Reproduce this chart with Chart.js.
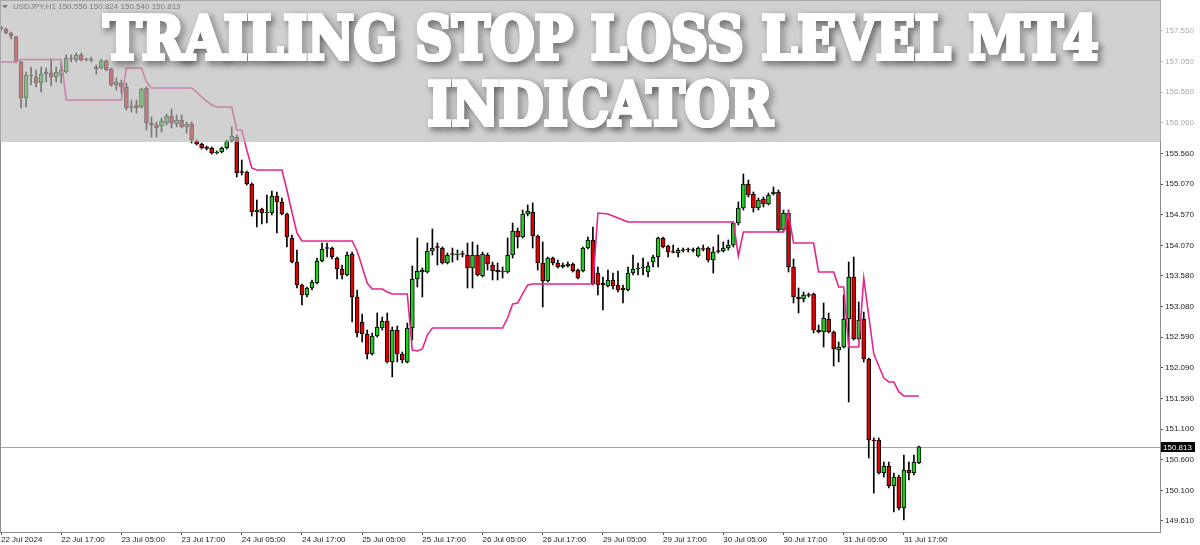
<!DOCTYPE html>
<html>
<head>
<meta charset="utf-8">
<script src="https://cdn.jsdelivr.net/npm/chart.js@4.4.1/dist/chart.umd.min.js"></script>
<style>
html,body{margin:0;padding:0;background:#fff;}
#wrap{position:relative;width:1200px;height:545px;}
</style>
</head>
<body>
<div id="wrap"><canvas id="c" width="1200" height="545"></canvas></div>
<script>
const symbol = "USDJPY,H1";
const titleLines = ["TRAILING STOP LOSS LEVEL MT4", "INDICATOR"];

const opens = [157.615,157.582,157.517,157.452,157.047,156.464,156.837,156.804,156.707,156.853,
156.869,156.804,156.837,156.885,157.112,157.080,157.161,157.096,157.080,156.966,
156.950,157.063,156.934,156.675,156.707,156.642,156.318,156.350,156.318,156.626,
156.059,156.026,156.010,156.059,156.172,156.043,156.107,155.994,156.043,155.767,
155.718,155.670,155.654,155.573,155.589,155.654,155.767,155.831,155.265,155.265,
155.071,154.617,154.665,154.600,154.600,154.876,154.779,154.584,154.195,153.806,
153.434,153.272,153.385,153.466,153.823,154.033,154.033,153.871,153.693,153.596,
153.936,153.239,152.834,152.639,152.316,152.607,152.737,152.850,152.186,152.704,
152.316,152.186,152.737,153.531,153.644,153.644,153.985,154.050,154.033,153.790,
153.936,153.920,153.936,153.920,153.709,153.920,153.579,153.920,153.758,153.677,
153.644,153.644,153.920,154.309,154.212,154.584,154.617,154.228,153.790,153.498,
153.871,153.790,153.725,153.741,153.774,153.677,153.660,154.033,154.163,153.628,
153.466,153.417,153.515,153.434,153.385,153.353,153.628,153.693,153.709,153.644,
153.806,153.887,154.195,154.066,153.968,153.952,154.001,154.001,154.001,153.904,
154.017,154.033,153.839,153.985,153.985,154.033,154.082,154.438,154.681,155.071,
154.908,154.681,154.827,154.746,154.908,154.941,154.325,154.600,153.725,153.239,
153.207,153.272,153.288,152.704,152.672,152.883,152.672,152.380,152.429,152.883,
153.563,152.558,152.883,152.235,150.922,150.922,150.387,150.500,150.177,150.322,
149.821,150.436,150.387,150.556];

const highs = [157.631,157.598,157.533,157.469,157.063,156.885,156.966,156.918,156.966,156.950,
157.096,156.966,157.047,157.161,157.161,157.193,157.193,157.112,157.128,156.999,
157.096,157.080,156.950,156.788,156.756,156.707,156.432,156.432,156.626,156.642,
156.156,156.075,156.140,156.205,156.286,156.188,156.188,156.075,156.075,155.783,
155.735,155.686,155.670,155.605,155.670,155.783,155.994,155.864,155.459,155.281,
155.087,154.811,154.681,154.892,154.957,154.941,154.843,154.600,154.244,154.001,
153.450,153.401,153.515,153.871,154.114,154.114,154.050,153.887,153.758,153.968,
153.968,153.353,152.964,152.704,152.656,152.980,152.915,152.980,152.753,152.769,
152.348,152.818,153.741,154.195,153.709,154.114,154.341,154.114,154.050,153.952,
154.033,154.001,153.985,154.114,154.131,154.082,153.968,153.952,153.806,153.790,
153.725,154.195,154.438,154.357,154.649,154.730,154.762,154.244,154.131,153.887,
153.887,153.839,153.790,153.806,153.790,153.693,154.050,154.212,154.374,153.725,
153.563,153.677,153.628,153.660,153.434,153.725,153.920,153.790,153.871,153.806,
153.920,154.212,154.212,154.082,154.082,154.033,154.033,154.033,154.033,154.050,
154.082,154.050,154.050,154.244,154.131,154.163,154.455,154.779,155.232,155.135,
154.941,154.843,154.860,154.924,155.022,154.973,154.649,154.649,153.855,153.385,
153.320,153.304,153.304,152.785,153.142,152.980,152.688,152.510,153.272,153.806,
153.887,153.158,152.996,152.250,150.954,150.954,150.565,150.565,150.387,150.355,
150.679,150.565,150.679,150.824];

const lows = [157.550,157.501,157.420,157.031,156.302,156.318,156.675,156.642,156.561,156.723,
156.658,156.723,156.707,156.869,157.047,157.047,157.063,157.063,157.047,156.853,
156.934,156.901,156.658,156.594,156.529,156.269,156.237,156.221,156.302,155.945,
155.831,155.831,155.913,156.026,155.978,155.994,155.978,155.897,155.735,155.702,
155.637,155.621,155.556,155.556,155.573,155.637,155.751,155.184,155.216,155.054,
154.552,154.374,154.422,154.438,154.568,154.276,154.568,154.050,153.790,153.385,
153.110,153.239,153.353,153.450,153.806,153.887,153.855,153.531,153.531,153.579,
152.834,152.591,152.510,152.235,152.299,152.591,152.704,152.170,151.943,152.186,
152.170,152.170,152.542,153.401,153.239,153.628,153.920,153.758,153.774,153.774,
153.806,153.839,153.887,153.385,153.385,153.579,153.563,153.677,153.515,153.515,
153.547,153.628,153.871,154.033,154.195,154.552,154.033,153.677,153.077,153.482,
153.758,153.709,153.709,153.725,153.644,153.531,153.644,154.017,153.434,153.272,
153.029,153.401,153.369,153.320,153.142,153.336,153.596,153.596,153.596,153.563,
153.725,153.725,154.033,153.887,153.952,153.887,153.968,153.968,153.968,153.887,
153.985,153.806,153.628,153.952,153.968,154.001,154.050,154.406,154.649,154.860,
154.617,154.649,154.698,154.730,154.892,154.293,154.293,153.644,153.142,152.980,
153.158,153.239,152.656,152.656,152.429,152.656,152.121,152.186,152.413,151.538,
152.542,152.542,152.186,150.630,150.063,150.371,150.322,150.144,149.756,149.788,
149.626,150.274,150.355,150.540];

const closes = [157.582,157.517,157.469,157.047,156.464,156.837,156.820,156.707,156.853,156.885,
156.804,156.885,156.918,157.112,157.096,157.161,157.080,157.080,157.075,156.934,
157.063,156.918,156.675,156.723,156.642,156.302,156.310,156.302,156.610,156.059,
156.026,155.978,156.091,156.172,156.059,156.107,155.994,156.043,155.783,155.718,
155.654,155.646,155.573,155.581,155.654,155.767,155.848,155.249,155.257,155.071,
154.617,154.649,154.600,154.609,154.876,154.779,154.584,154.212,153.806,153.434,
153.272,153.385,153.482,153.823,154.017,154.025,153.887,153.693,153.596,153.920,
153.239,152.656,152.639,152.316,152.607,152.753,152.850,152.186,152.704,152.316,
152.218,152.737,153.531,153.660,153.677,153.985,154.033,154.042,153.790,153.920,
153.928,153.928,153.928,153.709,153.920,153.596,153.936,153.774,153.660,153.644,
153.652,153.920,154.309,154.212,154.584,154.633,154.228,153.790,153.498,153.871,
153.790,153.725,153.758,153.774,153.660,153.547,154.033,154.163,153.450,153.434,
153.434,153.515,153.417,153.353,153.353,153.628,153.693,153.709,153.717,153.741,
153.887,154.195,154.050,153.968,153.960,154.001,153.993,154.009,153.993,154.033,
154.009,153.839,153.968,153.977,154.033,154.082,154.438,154.681,155.071,154.892,
154.681,154.811,154.746,154.892,154.941,154.325,154.600,153.725,153.239,153.207,
153.272,153.264,152.704,152.672,152.899,152.672,152.397,152.429,152.883,153.563,
152.558,152.866,152.235,150.922,150.906,150.387,150.500,150.177,150.322,149.821,
150.436,150.387,150.565,150.813];

const stopLevel = [157.047,157.047,157.047,157.047,157.088,157.088,157.088,157.088,157.088,157.088,
157.088,157.088,157.088,156.432,156.432,156.432,156.432,156.432,156.432,156.432,
156.432,156.432,156.432,156.432,156.432,156.950,156.950,156.950,156.950,156.723,
156.626,156.626,156.626,156.626,156.626,156.626,156.626,156.626,156.626,156.561,
156.480,156.415,156.350,156.318,156.318,156.318,156.318,155.945,155.945,155.621,
155.330,155.297,155.297,155.297,155.297,155.297,155.297,154.973,154.617,154.276,
154.147,154.147,154.147,154.147,154.147,154.147,154.147,154.147,154.147,154.147,
154.147,153.985,153.725,153.466,153.369,153.369,153.369,153.320,153.288,153.288,
153.288,153.288,152.380,152.364,152.397,152.623,152.737,152.737,152.737,152.737,
152.737,152.737,152.737,152.737,152.737,152.737,152.737,152.737,152.737,152.737,
152.737,152.899,153.126,153.142,153.288,153.434,153.450,153.450,153.450,153.450,
153.450,153.450,153.450,153.450,153.450,153.450,153.450,153.450,153.450,154.600,
154.592,154.584,154.552,154.519,154.487,154.455,154.455,154.455,154.455,154.455,
154.455,154.455,154.455,154.455,154.455,154.455,154.455,154.455,154.455,154.455,
154.455,154.455,154.455,154.455,154.455,154.455,154.455,153.904,154.293,154.293,
154.293,154.293,154.293,154.293,154.293,154.293,154.293,154.600,154.114,154.114,
154.114,154.114,154.114,153.644,153.644,153.644,153.644,153.401,153.401,152.429,
152.429,152.429,153.547,152.931,152.316,152.121,151.926,151.862,151.862,151.700,
151.635,151.635,151.635,151.635];

const xTickIndex = [0,12,24,36,48,60,72,84,96,108,120,132,144,156,168,180];
const xTickLabels = ["22 Jul 2024","22 Jul 17:00","23 Jul 05:00","23 Jul 17:00","24 Jul 05:00",
  "24 Jul 17:00","25 Jul 05:00","25 Jul 17:00","26 Jul 05:00","26 Jul 17:00","29 Jul 05:00",
  "29 Jul 17:00","30 Jul 05:00","30 Jul 17:00","31 Jul 05:00","31 Jul 17:00"];
const priceTicks = [157.550,157.050,156.560,156.060,155.560,155.070,154.570,154.070,153.580,
  153.080,152.590,152.090,151.590,151.100,150.600,150.100,149.610];

const bullColor = '#22cc22';
const bearColor = '#e00000';
const stopColor = '#e6258a';
const axisFont = "'Liberation Sans', Arial, sans-serif";

const idx = opens.map((_, i) => i);
const bodies = idx.map(i => ({x: i, y: [opens[i], closes[i]]}));
const wicks = idx.map(i => ({x: i, y: [lows[i], highs[i]]}));
const stopPts = idx.map(i => ({x: i, y: stopLevel[i]}));
const last = idx.length - 1;

const overlay = {
  id: 'overlay',
  beforeDatasetsDraw(chart) {
    const {ctx, chartArea: a, scales: {y}} = chart;
    const py = Math.round(y.getPixelForValue(closes[last])) + 0.5;
    ctx.save();
    ctx.strokeStyle = '#a4a4a4';
    ctx.lineWidth = 1;
    ctx.beginPath(); ctx.moveTo(a.left, py); ctx.lineTo(a.right, py); ctx.stroke();
    ctx.restore();
  },
  afterDraw(chart) {
    const {ctx, chartArea: a, scales: {y}, width} = chart;
    ctx.save();
    ctx.strokeStyle = '#8c8c8c';
    ctx.lineWidth = 1;
    ctx.strokeRect(a.left + 0.5, a.top + 0.5, a.right - a.left, a.bottom - a.top);
    const py = y.getPixelForValue(closes[last]);
    ctx.fillStyle = '#000';
    ctx.fillRect(a.right + 1, Math.round(py) - 5, 34, 10);
    ctx.fillStyle = '#fff';
    ctx.font = "8px " + axisFont;
    ctx.textBaseline = 'middle';
    ctx.textAlign = 'left';
    ctx.fillText(closes[last].toFixed(3), a.right + 3, Math.round(py) + 0.5);
    const bandH = 142;
    ctx.fillStyle = 'rgba(185,185,185,0.65)';
    ctx.fillRect(0, 0, a.right + 1, bandH);
    ctx.fillStyle = 'rgba(255,255,255,0.6)';
    ctx.fillRect(a.right + 1, 0, width - a.right - 1, bandH);
    ctx.fillStyle = '#7c7c7c';
    ctx.beginPath(); ctx.moveTo(2, 5); ctx.lineTo(8, 5); ctx.lineTo(5, 8.5); ctx.closePath(); ctx.fill();
    ctx.font = "8px " + axisFont;
    ctx.textBaseline = 'middle';
    ctx.fillText(symbol + ' ' + [opens[last], highs[last], lows[last], closes[last]].map(v => v.toFixed(3)).join(' '), 13, 7);
    const drawFit = (text, cx, base, targetW) => {
      ctx.save();
      ctx.font = "bold 60px 'DejaVu Serif', serif";
      ctx.textAlign = 'center';
      ctx.textBaseline = 'alphabetic';
      const w = ctx.measureText(text).width;
      ctx.translate(cx, base);
      ctx.scale(targetW / w, 1);
      ctx.lineJoin = 'miter';
      ctx.shadowColor = 'rgba(0,0,0,0.6)';
      ctx.shadowBlur = 7;
      ctx.shadowOffsetX = 3;
      ctx.shadowOffsetY = 3;
      ctx.strokeStyle = '#ffffff';
      ctx.lineWidth = 4;
      ctx.strokeText(text, 0, 0);
      ctx.shadowColor = 'rgba(0,0,0,0)';
      ctx.fillStyle = '#ffffff';
      ctx.fillText(text, 0, 0);
      ctx.strokeText(text, 0, 0);
      ctx.restore();
    };
    drawFit(titleLines[0], 601, 59, 995);
    drawFit(titleLines[1], 600, 125, 345);
    ctx.restore();
  }
};

new Chart(document.getElementById('c'), {
  type: 'bar',
  data: {
    datasets: [
      {type: 'line', data: stopPts, borderColor: stopColor, borderWidth: 1.6, pointRadius: 0, tension: 0, order: 0, fill: false},
      {type: 'bar', data: bodies, backgroundColor: idx.map(i => closes[i] >= opens[i] ? bullColor : bearColor),
        borderColor: '#000', borderWidth: 1, borderSkipped: false, barThickness: 4, minBarLength: 1, grouped: false, order: 1},
      {type: 'bar', data: wicks, backgroundColor: '#000', borderWidth: 0, barThickness: 1, grouped: false, order: 2}
    ]
  },
  options: {
    responsive: false,
    animation: false,
    devicePixelRatio: 1,
    layout: {padding: 0},
    plugins: {legend: {display: false}, tooltip: {enabled: false}, title: {display: false}},
    scales: {
      x: {
        type: 'linear', position: 'bottom', min: -0.2, max: 231.06, offset: false,
        afterBuildTicks: s => { s.ticks = xTickIndex.map(v => ({value: v})); },
        afterFit: s => { s.height = 13; s.paddingLeft = 0; s.paddingRight = 0; },
        ticks: {autoSkip: false, maxRotation: 0, minRotation: 0, align: 'start', padding: 0, color: '#222',
          font: {family: axisFont, size: 8}, callback: (v, i) => xTickLabels[i]},
        grid: {drawOnChartArea: false, drawTicks: true, tickLength: 3, color: '#555', offset: false},
        border: {display: false}
      },
      y: {
        type: 'linear', position: 'right', min: 149.431, max: 158.052,
        afterBuildTicks: s => { s.ticks = priceTicks.map(v => ({value: v})); },
        afterFit: s => { s.width = 40; s.paddingTop = 0; s.paddingBottom = 0; },
        ticks: {autoSkip: false, padding: 2, color: '#222', font: {family: axisFont, size: 8},
          callback: v => Number(v).toFixed(3)},
        grid: {drawOnChartArea: false, drawTicks: true, tickLength: 3, color: '#555'},
        border: {display: false}
      }
    }
  },
  plugins: [overlay]
});
</script>
</body>
</html>
